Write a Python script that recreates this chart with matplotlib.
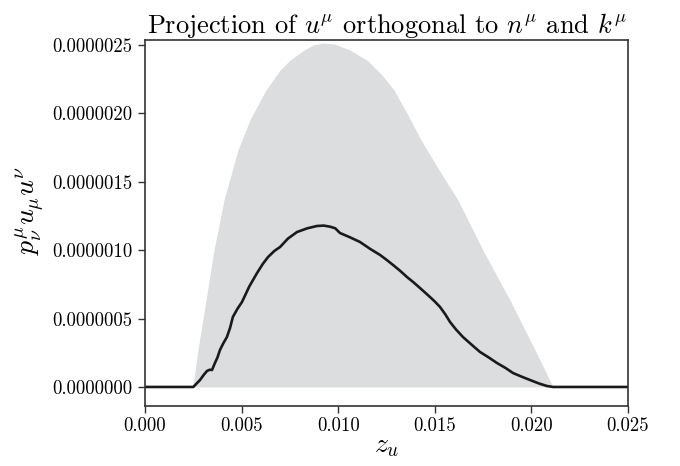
import numpy as np
import matplotlib
matplotlib.use("Agg")
import matplotlib.pyplot as plt
from matplotlib.ticker import FormatStrFormatter

plt.rcParams["font.family"] = "serif"
plt.rcParams["font.serif"] = ["cmr10"]
plt.rcParams["mathtext.fontset"] = "cm"
plt.rcParams["axes.formatter.use_mathtext"] = True

# envelope of the projection (upper bound), shaded
env_z = [0.0, 0.00248, 0.00274, 0.00316, 0.00357, 0.00409, 0.00481, 0.00543,
         0.00626, 0.00699, 0.00751, 0.00823, 0.00870, 0.00921, 0.00983,
         0.01061, 0.01149, 0.01227, 0.01289, 0.01361, 0.01429, 0.01522,
         0.01620, 0.01749, 0.01889, 0.02019, 0.02112, 0.025]
env_val = [0.0, 0.0, 0.270e-6, 0.636e-6, 1.001e-6, 1.367e-6, 1.732e-6, 1.952e-6,
           2.171e-6, 2.317e-6, 2.390e-6, 2.463e-6, 2.500e-6, 2.515e-6, 2.507e-6,
           2.463e-6, 2.390e-6, 2.281e-6, 2.171e-6, 1.988e-6, 1.806e-6, 1.586e-6,
           1.367e-6, 1.001e-6, 0.636e-6, 0.270e-6, 0.0, 0.0]

# measured projection p^mu_nu u_mu u^nu along z_u
z_u = [0.0, 0.00250, 0.00285, 0.00305, 0.00321, 0.00335, 0.00347, 0.00362,
       0.00375, 0.00388, 0.00405, 0.00424, 0.00440, 0.00455, 0.00478, 0.00502,
       0.00540, 0.00580, 0.00610, 0.00637, 0.00670, 0.00699, 0.00740, 0.00787,
       0.00840, 0.00890, 0.00925, 0.00958, 0.00985, 0.01009, 0.01060, 0.01113,
       0.01165, 0.01217, 0.01250, 0.01284, 0.01320, 0.01356, 0.01390, 0.01423,
       0.01450, 0.01475, 0.01500, 0.01527, 0.01555, 0.01579, 0.01610, 0.01646,
       0.01690, 0.01734, 0.01780, 0.01822, 0.01865, 0.01905, 0.01950, 0.01993,
       0.02040, 0.02081, 0.02112, 0.025]
proj = [0.0, 0.0, 0.051e-6, 0.090e-6, 0.117e-6, 0.126e-6, 0.124e-6, 0.175e-6,
        0.215e-6, 0.270e-6, 0.318e-6, 0.365e-6, 0.430e-6, 0.512e-6, 0.570e-6, 0.621e-6,
        0.735e-6, 0.833e-6, 0.900e-6, 0.950e-6, 0.995e-6, 1.023e-6, 1.085e-6, 1.133e-6,
        1.160e-6, 1.177e-6, 1.180e-6, 1.172e-6, 1.160e-6, 1.126e-6, 1.095e-6, 1.060e-6,
        1.010e-6, 0.965e-6, 0.930e-6, 0.892e-6, 0.850e-6, 0.804e-6, 0.765e-6, 0.724e-6,
        0.690e-6, 0.658e-6, 0.625e-6, 0.585e-6, 0.530e-6, 0.475e-6, 0.420e-6, 0.365e-6,
        0.310e-6, 0.256e-6, 0.215e-6, 0.175e-6, 0.140e-6, 0.102e-6, 0.075e-6, 0.051e-6,
        0.025e-6, 0.007e-6, 0.0, 0.0]

fig = plt.figure(figsize=(6.8, 4.66), dpi=100)
ax = fig.add_axes([0.2132, 0.1288, 0.7103, 0.7854])

ax.fill_between(env_z, env_val, 0, color="#dcdddf", linewidth=0)
ax.plot(z_u, proj, color="#1a1a1a", linewidth=1.9)

ax.set_xlim(0, 0.025)
ax.set_ylim(-1.39e-7, 2.537e-6)
ax.set_xticks(np.arange(0, 0.0251, 0.005))
ax.set_yticks(np.arange(0, 2.6e-6, 0.5e-6))
ax.xaxis.set_major_formatter(FormatStrFormatter("%.3f"))
ax.yaxis.set_major_formatter(FormatStrFormatter("%.7f"))
ax.tick_params(direction="out", length=5, width=1, labelsize=13.5, color="#333333")
ax.tick_params(axis="x", pad=3)
ax.tick_params(axis="y", pad=4)
for sp in ax.spines.values():
    sp.set_color("#333333")
    sp.set_linewidth(1.2)

ax.set_xlabel(r"$z_u$", fontsize=20, labelpad=-2)
ax.set_ylabel(r"$p^\mu_\nu u_\mu u^\nu$", fontsize=20)
ax.yaxis.set_label_coords(-0.205, 0.535)
ax.set_title(r"Projection of $u^\mu$ orthogonal to $n^\mu$ and $k^\mu$", fontsize=19, pad=4)

fig.savefig("out.png", dpi=100)
